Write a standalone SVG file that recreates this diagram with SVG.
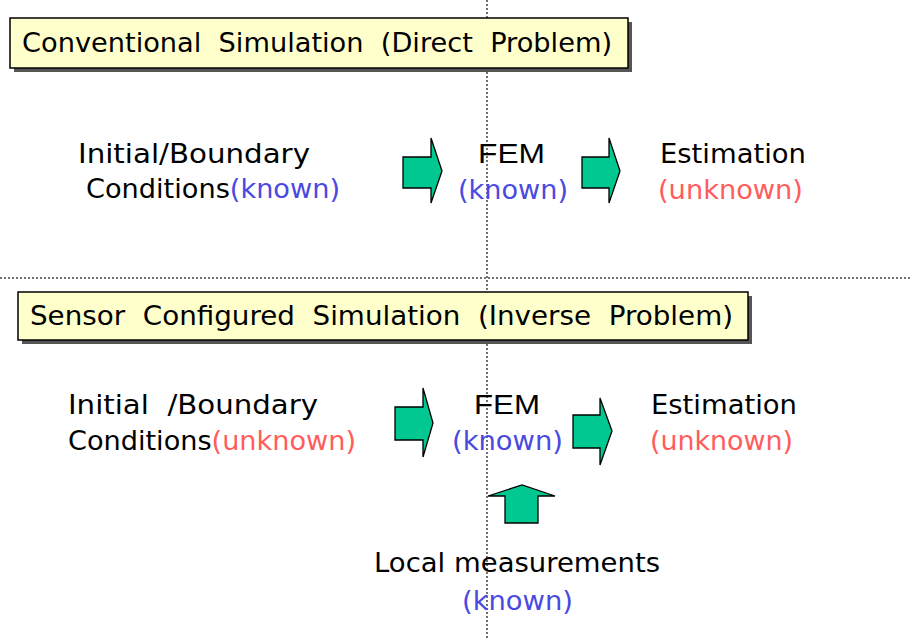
<svg xmlns="http://www.w3.org/2000/svg" width="912" height="640" viewBox="0 0 912 640">
<style>
.t{font-family:"DejaVu Sans","Liberation Sans",sans-serif;font-size:27px;fill:#000;white-space:pre}
.a{font-family:"Liberation Sans",Arial,sans-serif;font-size:28px;fill:#000}
.b{fill:#4a4ae0}
.r{fill:#ff5c5c}
.box{fill:#ffffcc;stroke:#000;stroke-width:1.5}
.sh{fill:#555}
.arr{fill:#00c890;stroke:#000;stroke-width:1.3;stroke-linejoin:miter}
.dot{stroke:#444;stroke-width:1.5;stroke-dasharray:2 2;fill:none}
</style>
<rect width="912" height="640" fill="#fff"/>
<g id="guides">
<line class="dot" x1="487" y1="0" x2="487" y2="640"/>
<line class="dot" x1="0" y1="278" x2="912" y2="278"/>
</g>
<g id="title1">
<rect class="sh" x="14" y="22" width="618" height="50"/>
<rect class="box" x="10" y="18" width="618" height="50"/>
<text class="t" x="22" y="52" textLength="590" lengthAdjust="spacingAndGlyphs">Conventional  Simulation  (Direct  Problem)</text>
</g>
<g id="title2">
<rect class="sh" x="22" y="296" width="730" height="48"/>
<rect class="box" x="18" y="292" width="730" height="48"/>
<text class="t" x="30" y="325" textLength="703" lengthAdjust="spacingAndGlyphs">Sensor  Configured  Simulation  (Inverse  Problem)</text>
</g>
<g id="bc1">
<text class="t" x="78" y="163" textLength="232" lengthAdjust="spacingAndGlyphs">Initial/Boundary</text>
<text class="t" x="86" y="198" textLength="254" lengthAdjust="spacingAndGlyphs">Conditions<tspan class="b">(known)</tspan></text>
</g>
<g id="fem1">
<text class="a" x="478" y="163" textLength="67" lengthAdjust="spacingAndGlyphs">FEM</text>
<text class="t b" x="458" y="199" textLength="110" lengthAdjust="spacingAndGlyphs">(known)</text>
</g>
<g id="est1">
<text class="t" x="660" y="163" textLength="146" lengthAdjust="spacingAndGlyphs">Estimation</text>
<text class="t r" x="658" y="199" textLength="145" lengthAdjust="spacingAndGlyphs">(unknown)</text>
</g>
<g id="bc2">
<text class="t" x="68" y="414" textLength="250" lengthAdjust="spacingAndGlyphs">Initial  /Boundary</text>
<text class="t" x="68" y="450" textLength="288" lengthAdjust="spacingAndGlyphs">Conditions<tspan class="r">(unknown)</tspan></text>
</g>
<g id="fem2">
<text class="a" x="474" y="414" textLength="66" lengthAdjust="spacingAndGlyphs">FEM</text>
<text class="t b" x="452" y="450" textLength="111" lengthAdjust="spacingAndGlyphs">(known)</text>
</g>
<g id="est2">
<text class="t" x="651" y="414" textLength="146" lengthAdjust="spacingAndGlyphs">Estimation</text>
<text class="t r" x="650" y="450" textLength="143" lengthAdjust="spacingAndGlyphs">(unknown)</text>
</g>
<g id="local">
<text class="t" x="374" y="572" textLength="286" lengthAdjust="spacingAndGlyphs">Local measurements</text>
<text class="t b" x="462" y="610" textLength="111" lengthAdjust="spacingAndGlyphs">(known)</text>
</g>
<g id="connectors">
<polygon class="arr" points="403,157 431,157 431,138 442,171 431,203 431,188 403,188"/>
<polygon class="arr" points="582,157 609,157 609,138 620,171 609,203 609,188 582,188"/>
<polygon class="arr" points="395,407 423,407 423,388 433,423 423,457 423,440 395,440"/>
<polygon class="arr" points="573,415 600,415 600,398 612,431 600,465 600,448 573,448"/>
<polygon class="arr" points="505,523 505,496 488,496 522,485 555,496 538,496 538,523"/>
</g>
</svg>
